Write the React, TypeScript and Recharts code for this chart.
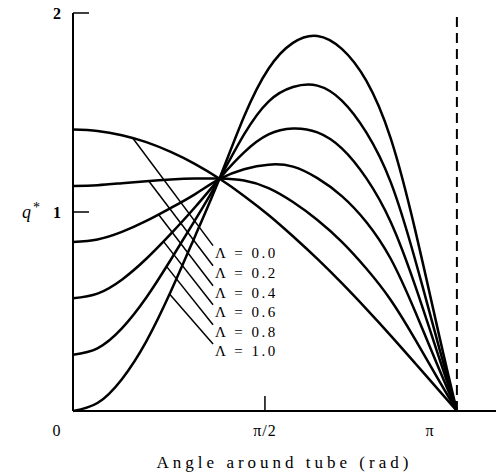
import React from 'react';
import { LineChart, Line, XAxis, YAxis, ReferenceLine, ReferenceDot } from 'recharts';

// angle around the tube (rad), sampled grid
const theta = [0, 0.2, 0.4, 0.6, 0.8, 1.0, 1.2, 1.4, 1.6, 1.8, 2.0, 2.2, 2.4, 2.6, 2.8, 3.0, 3.1416];

// q*, one array per Λ
const lambda00 = [1.414, 1.407, 1.386, 1.351, 1.302, 1.241, 1.167, 1.081, 0.985, 0.878, 0.764, 0.642, 0.513, 0.379, 0.24, 0.1, 0];
const lambda02 = [1.131, 1.135, 1.145, 1.155, 1.163, 1.168, 1.168, 1.158, 1.12, 1.05, 0.96, 0.85, 0.716, 0.558, 0.36, 0.148, 0];
const lambda04 = [0.849, 0.862, 0.9, 0.955, 1.02, 1.09, 1.166, 1.215, 1.238, 1.228, 1.17, 1.08, 0.95, 0.765, 0.5, 0.205, 0];
const lambda06 = [0.566, 0.59, 0.66, 0.765, 0.89, 1.025, 1.169, 1.3, 1.39, 1.42, 1.4, 1.32, 1.17, 0.95, 0.63, 0.26, 0];
const lambda08 = [0.283, 0.315, 0.415, 0.57, 0.76, 0.96, 1.169, 1.39, 1.555, 1.628, 1.635, 1.56, 1.4, 1.15, 0.76, 0.31, 0];
const lambda10 = [0, 0.04, 0.16, 0.35, 0.6, 0.88, 1.17, 1.48, 1.72, 1.85, 1.885, 1.82, 1.66, 1.37, 0.91, 0.37, 0];

const seriesLabels = ['Λ = 0.0', 'Λ = 0.2', 'Λ = 0.4', 'Λ = 0.6', 'Λ = 0.8', 'Λ = 1.0'];
const xTicks = [0, Math.PI / 2, Math.PI];
const xTickLabels = ['0', 'π/2', 'π'];
const yTicks = [1, 2];

const series = [lambda00, lambda02, lambda04, lambda06, lambda08, lambda10];
const keys = ['l00', 'l02', 'l04', 'l06', 'l08', 'l10'];

const data = theta.map((t, i) => {
  const row: Record<string, number> = { theta: t };
  keys.forEach((k, j) => (row[k] = series[j][i]));
  return row;
});

// where each leader line leaves its curve, and where the label column sits
const leaderStart = [0.49, 0.62, 0.7, 0.74, 0.765, 0.79];
const labelX = 1.162;
const labelY = [0.796, 0.695, 0.594, 0.499, 0.398, 0.302];

function valueAt(arr: number[], t: number) {
  for (let i = 1; i < theta.length; i++) {
    if (t <= theta[i]) {
      const f = (t - theta[i - 1]) / (theta[i] - theta[i - 1]);
      return arr[i - 1] + f * (arr[i] - arr[i - 1]);
    }
  }
  return arr[arr.length - 1];
}

const FONT = '"Liberation Serif", "Times New Roman", serif';

const XTick = (props: any) => {
  const { x, y, payload } = props;
  const idx = xTicks.findIndex((v) => Math.abs(v - payload.value) < 1e-6);
  const isHalf = idx === 1;
  const tx = idx === 0 ? x - 16 : x;
  return (
    <g>
      {isHalf && <line x1={x} y1={y} x2={x} y2={y - 15} stroke="#000" strokeWidth={1.5} />}
      <text x={tx} y={y + 19} textAnchor="middle" dominantBaseline="central" fontFamily={FONT} fontSize={16} fill="#000" letterSpacing={1}>
        {xTickLabels[idx]}
      </text>
    </g>
  );
};

const YTick = (props: any) => {
  const { x, y, payload } = props;
  return (
    <g>
      <line x1={x} y1={y} x2={x + 16} y2={y} stroke="#000" strokeWidth={1.5} />
      <text x={x - 16} y={y} textAnchor="middle" dominantBaseline="central" fontFamily={FONT} fontSize={16} fontWeight="bold" fill="#000">
        {payload.value}
      </text>
    </g>
  );
};

const QLabel = (props: any) => {
  const { viewBox } = props;
  const cy = viewBox.y + viewBox.height / 2;
  return (
    <text x={22} y={cy} dominantBaseline="central" fontFamily={FONT} fontSize={18} fill="#000">
      <tspan fontStyle="italic">q</tspan>
      <tspan dx={2} dy={-5} fontSize={14}>*</tspan>
    </text>
  );
};

export default function App() {
  return (
    <div style={{ position: 'absolute', left: 0, top: 0, background: '#fff' }}>
      <LineChart width={496} height={475} data={data} margin={{ top: 13, right: 0, bottom: 0, left: 0 }}>
        <XAxis
          dataKey="theta"
          type="number"
          domain={[0, 3.4616]}
          ticks={xTicks}
          allowDataOverflow
          height={64}
          tickSize={0}
          tickMargin={0}
          tick={<XTick />}
          axisLine={{ stroke: '#000', strokeWidth: 2 }}
          tickLine={false}
          label={{
            value: 'Angle around tube (rad)',
            position: 'insideBottom',
            offset: 7,
            style: { fontFamily: FONT, fontSize: 17, fill: '#000', letterSpacing: 4 },
          }}
        />
        <YAxis
          type="number"
          domain={[0, 2]}
          ticks={yTicks}
          width={73}
          tickSize={0}
          tickMargin={0}
          tick={<YTick />}
          axisLine={{ stroke: '#000', strokeWidth: 2 }}
          tickLine={false}
          label={<QLabel />}
        />
        <ReferenceLine x={Math.PI} stroke="#000" strokeWidth={2} strokeDasharray="10 6" />
        {keys.map((k) => (
          <Line key={k} dataKey={k} type="natural" stroke="#000" strokeWidth={2.5} dot={false} isAnimationActive={false} />
        ))}
        {series.map((arr, i) => (
          <ReferenceLine
            key={'lead' + i}
            segment={[
              { x: leaderStart[i], y: valueAt(arr, leaderStart[i]) },
              { x: labelX - 0.016, y: labelY[i] + 0.035 },
            ]}
            stroke="#000"
            strokeWidth={1.5}
            ifOverflow="visible"
          />
        ))}
        {seriesLabels.map((s, i) => (
          <ReferenceDot
            key={'lab' + i}
            x={labelX}
            y={labelY[i]}
            r={0}
            ifOverflow="visible"
            shape={(p: any) => (
              <text x={p.cx} y={p.cy} dominantBaseline="central" fontFamily={FONT} fontSize={15} fill="#000" letterSpacing={2.5}>
                {s}
              </text>
            )}
          />
        ))}
      </LineChart>
    </div>
  );
}
